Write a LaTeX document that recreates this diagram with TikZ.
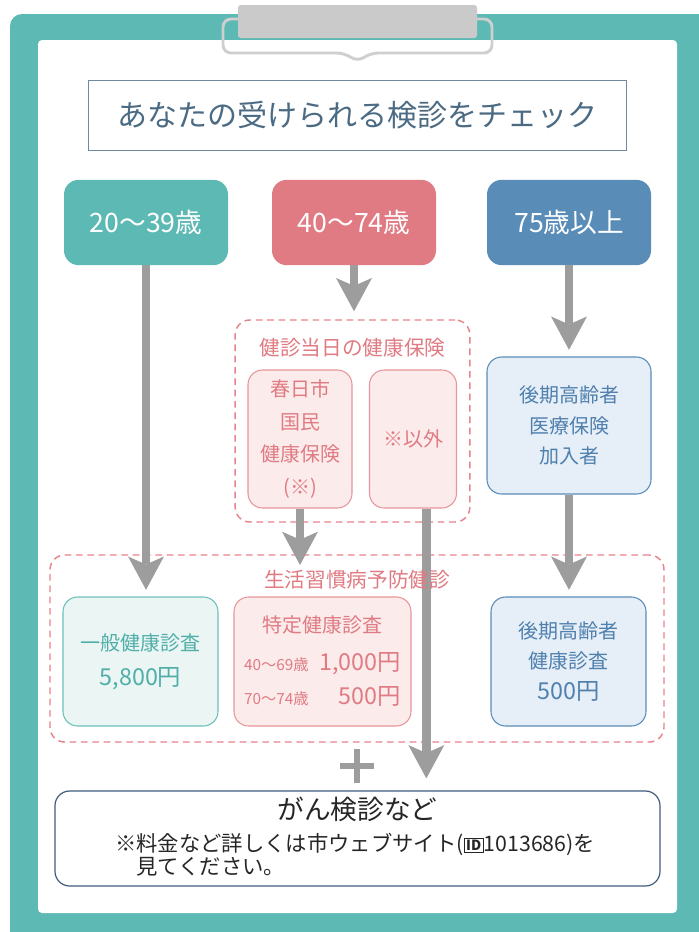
\documentclass[tikz,border=0pt]{standalone}
\usepackage{fontspec}
\setmainfont{Noto Sans CJK JP}
\usetikzlibrary{arrows.meta, positioning}

\definecolor{boardteal}{HTML}{5DB9B3}
\definecolor{clipgray}{HTML}{C9CAC9}
\definecolor{clipline}{HTML}{CFCFCF}
\definecolor{titleblue}{HTML}{4B6B84}
\definecolor{titleline}{HTML}{6F8A9E}
\definecolor{agepink}{HTML}{E07B83}
\definecolor{ageblue}{HTML}{5A8CB8}
\definecolor{grppink}{HTML}{E8848C}
\definecolor{pinkfill}{HTML}{FBEBEB}
\definecolor{pinkline}{HTML}{E8959B}
\definecolor{tealfill}{HTML}{EAF5F4}
\definecolor{tealline}{HTML}{6CC0BA}
\definecolor{tealtext}{HTML}{4FAFA8}
\definecolor{bluefill}{HTML}{E6EEF7}
\definecolor{bluetext}{HTML}{4F80AE}
\definecolor{arrowgray}{HTML}{9D9D9D}
\definecolor{bottomline}{HTML}{3E5C7B}

\newcommand{\idmark}{{\setlength{\fboxsep}{1pt}\setlength{\fboxrule}{0.8pt}\raisebox{0.3pt}{\fbox{\fontsize{10.5}{10.5}\selectfont\bfseries ID}}}}
\newcommand{\pricefont}{\fontsize{17.5}{20}\selectfont}
\newcommand{\agefont}{\fontsize{11.5}{14}\selectfont}

\begin{document}
\begin{tikzpicture}[x=0.75pt, y=-0.75pt,
    agebox/.style={rounded corners=11pt, minimum width=123pt, minimum height=64pt,
      text=white, font=\fontsize{20}{24}\selectfont},
    grpbox/.style={draw=grppink, line width=1.1pt, dash pattern=on 5pt off 3.5pt,
      rounded corners=11pt},
    grplabel/.style={text=agepink, font=\fontsize{15.5}{18}\selectfont},
    pinkbox/.style={draw=pinkline, fill=pinkfill, line width=0.8pt, rounded corners=11pt,
      text=agepink, align=center, font=\fontsize{15}{24.5}\selectfont},
    tealbox/.style={draw=tealline, fill=tealfill, line width=0.8pt, rounded corners=11pt,
      text=tealtext, align=center, font=\fontsize{15}{26}\selectfont},
    bluebox/.style={draw=ageblue, fill=bluefill, line width=0.8pt, rounded corners=11pt,
      text=bluetext, align=center, font=\fontsize{15}{23}\selectfont},
    flow/.style={draw=arrowgray, line width=6.5pt,
      -{Stealth[width=27pt, length=25pt, inset=6pt, line width=0pt]}}]
  \useasboundingbox (0,0) rectangle (699,932);
  % board and clip
  \fill[boardteal, rounded corners=9pt] (10,14) rectangle (720,950);
  \fill[white, rounded corners=3pt] (38,40) rectangle (677,913);
  \draw[clipline, line width=2.2pt, rounded corners=6pt]
    (345,53) -- (223,53) -- (223,19) -- (492,19) -- (492,53) -- (370,53) -- (357.5,62) -- cycle;
  \fill[clipgray, rounded corners=2pt] (238,5) rectangle (477,38);

  \node[draw=titleline, line width=0.9pt, minimum width=404pt, minimum height=52pt,
    text=titleblue, font=\fontsize{22.5}{26}\selectfont] (title) at (357.5,115.5)
    {あなたの受けられる検診をチェック};

  \node[agebox, fill=boardteal] (age20) at (146,222.5) {20〜39歳};
  \node[agebox, fill=agepink] (age40) at (354,222.5) {40〜74歳};
  \node[agebox, fill=ageblue] (age75) at (569,222.5) {75歳以上};

  % dashed groups
  \node[grpbox, minimum width=176pt, minimum height=151.5pt] (grpins) at (352.5,421) {};
  \node[grpbox, minimum width=460.5pt, minimum height=140.25pt] (grpcheck) at (357,648.5) {};
  \node[grplabel] (inslabel) at (352.5,348) {健診当日の健康保険};
  \coordinate (checktop) at (357,565);

  \node[pinkbox, minimum width=78pt, minimum height=103.5pt] (kokuho) at (300,439)
    {春日市\\国民\\健康保険\\(※)};
  \node[pinkbox, minimum width=65.25pt, minimum height=103.5pt] (igai) at (413,439) {※以外};
  \node[bluebox, minimum width=123pt, minimum height=102.75pt] (kouki) at (569,425.5)
    {後期高齢者\\医療保険\\加入者};

  \node[tealbox, minimum width=116.25pt, minimum height=96.75pt] (ippan) at (140.5,661.5)
    {一般健康診査\\{\pricefont 5,800円}};
  \node[pinkbox, minimum width=132.75pt, minimum height=96.75pt] (tokutei) at (322.5,661.5)
    {\begin{tabular}{@{}l@{\hspace{8pt}}r@{}}
      \multicolumn{2}{c}{特定健康診査}\\[4pt]
      {\agefont 40〜69歳} & {\pricefont 1,000円}\\[1pt]
      {\agefont 70〜74歳} & {\pricefont 500円}
    \end{tabular}};
  \node[bluebox, minimum width=116.25pt, minimum height=96.75pt] (koukiken) at (568.5,661.5)
    {後期高齢者\\健康診査\\{\pricefont 500円}};

  \node[draw=bottomline, line width=0.9pt, rounded corners=11pt, minimum width=453.75pt,
    minimum height=71.25pt] (bottom) at (357.5,838.5) {};

  % arrows
  \draw[flow, shorten >=5pt] (age20) -- (age20 |- ippan.north);
  \draw[flow, shorten >=6pt] (age40) -- (age40 |- grpins.north);
  \draw[flow, shorten >=5pt] (age75) -- (age75 |- kouki.north);
  \draw[flow] (kokuho) -- (kokuho |- checktop);
  \draw[flow, shorten >=5pt] (kouki) -- (kouki |- koukiken.north);
  \draw[flow, shorten >=9pt] ([xshift=10pt]igai.south) -- ([xshift=10pt]igai.south |- bottom.north);
  \coordinate (plus) at (357,766);
  \draw[arrowgray, line width=5pt] ([xshift=-12.5pt]plus) -- ([xshift=12.5pt]plus)
    ([yshift=-12.5pt]plus) -- ([yshift=12.5pt]plus);

  \node[grplabel, below=0pt of checktop] (checklabel) {生活習慣病予防健診};
  \node[font=\fontsize{20}{24}\selectfont, text=black!85] (cancer) at (357.5,809) {がん検診など};
  \node[anchor=north west, align=left, inner sep=0pt, text=black!85,
    font=\fontsize{16}{17.5}\selectfont] (note) at (115,832.5)
    {※料金など詳しくは市ウェブサイト(\idmark1013686)を\\\hspace{1em}見てください。};
\end{tikzpicture}
\end{document}
